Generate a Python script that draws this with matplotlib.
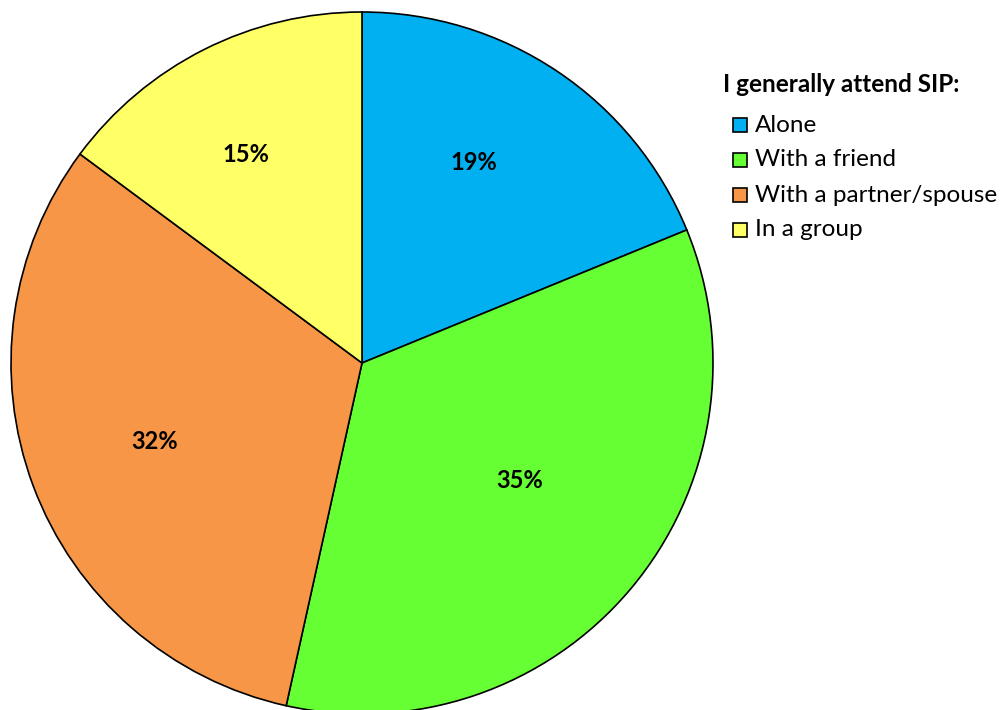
#!/usr/bin/env python3

import numpy as np
import matplotlib.pyplot as plt
from matplotlib.patches import Rectangle

# survey answers
labels = ['Alone', 'With a friend', 'With a partner/spouse', 'In a group']
percents = [19, 35, 32, 15]
colors = ['#00B0F0', '#66FF33', '#F79646', '#FFFF66']

# where the percent text sits: fraction of radius, degrees off slice middle
label_radius = [0.655, 0.56, 0.633, 0.68]
label_shift = [4.7, 3.4, 0.2, 2.4]

plt.rcParams['font.family'] = ['Lato', 'DejaVu Sans']

W, H = 1003, 710
fig = plt.figure(figsize=(W / 100, H / 100), dpi=100)

# pie centred at (362, 363) px with radius 351 px
cx, cy, r = 362, 363, 351
ax = fig.add_axes([(cx - r) / W, (H - cy - r) / H, 2 * r / W, 2 * r / H])
wedges, _ = ax.pie(percents, colors=colors, startangle=90, counterclock=False,
                   radius=1, wedgeprops=dict(edgecolor='black', linewidth=1.2))
ax.set_xlim(-1, 1)
ax.set_ylim(-1, 1)
ax.set_aspect('equal')
ax.axis('off')

# percentage labels inside each slice
for w, p, rr, sh in zip(wedges, percents, label_radius, label_shift):
    mid = np.deg2rad((w.theta1 + w.theta2) / 2 + sh)
    ax.text(rr * np.cos(mid), rr * np.sin(mid), str(p) + '%',
            ha='center', va='center', fontsize=17, fontweight='bold')

# legend drawn by hand in pixel positions
def px(x, y):
    return x / W, 1 - y / H

fig.text(*px(723, 84), 'I generally attend SIP:', ha='left', va='center',
         fontsize=17.5, fontweight='bold')
for i, (lab, col) in enumerate(zip(labels, colors)):
    y = 125 + 35 * i
    x0, y0 = px(733, y + 7)
    fig.add_artist(Rectangle((x0, y0), 14 / W, 14 / H, facecolor=col,
                             edgecolor='black', linewidth=1.2,
                             transform=fig.transFigure))
    fig.text(*px(755, y), lab, ha='left', va='center', fontsize=17.5)

fig.savefig('out.png', dpi=100)
